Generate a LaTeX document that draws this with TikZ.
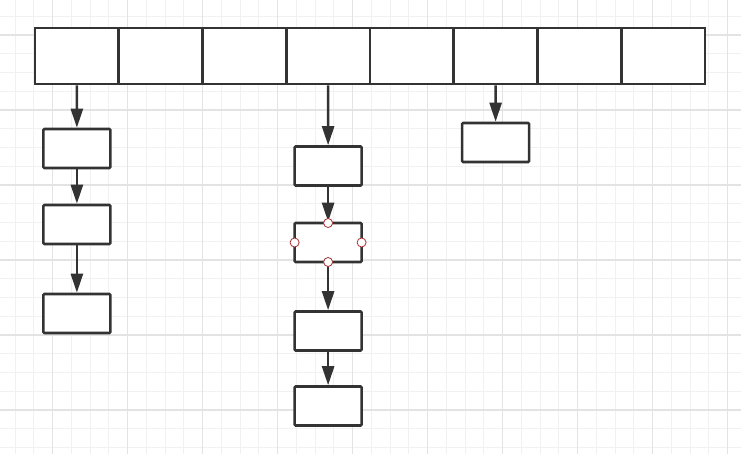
\documentclass[tikz,border=0pt]{standalone}
\usepackage{xcolor}
\usepackage{tikz}
\usetikzlibrary{arrows.meta,positioning}
\definecolor{edgegray}{HTML}{333333}
\definecolor{gridminor}{HTML}{F1F1F1}
\definecolor{gridmajor}{HTML}{E3E3E3}
\definecolor{handlered}{HTML}{A83232}

\begin{document}
\begin{tikzpicture}[
  x=1pt,y=-1pt,
  cell/.style  ={draw=edgegray,line width=2.6pt,fill=white,
                 minimum width=83.75pt,minimum height=56pt,inner sep=0pt},
  listbox/.style={draw=edgegray,line width=2.6pt,fill=white,rounded corners=1pt,
                 minimum width=67pt,minimum height=39pt,inner sep=0pt,outer sep=0pt},
  handle/.style={circle,draw=handlered,fill=white,line width=0.8pt,
                 minimum size=9pt,inner sep=0pt},
  link/.style  ={-{Triangle[length=19pt,width=12pt]},line width=2.6pt,edgegray,
                 shorten >=1.3pt}]

  \useasboundingbox (0,0) rectangle (741,454);

  % ===== BACKGROUND GRID =====
  \foreach \gx in {0,...,39} \draw[gridminor,line width=1pt] (15+18.75*\gx,0) -- (15+18.75*\gx,454);
  \foreach \gy in {0,...,23} \draw[gridminor,line width=1pt] (0,16.25+18.75*\gy) -- (741,16.25+18.75*\gy);
  \foreach \gx in {0,...,9} \draw[gridmajor,line width=1.2pt] (52.5+75*\gx,0) -- (52.5+75*\gx,454);
  \foreach \gy in {0,...,5} \draw[gridmajor,line width=1.2pt] (0,35+75*\gy) -- (741,35+75*\gy);

  % ===== TOP ROW: eight buckets =====
  \foreach \i in {1,...,8}
    \node[cell] (c\i) at (35+83.75*\i-41.875, 56) {};

  % ===== LEFT CHAIN (bucket 1) =====
  \node[listbox] (a1) at (76.9,148.5) {};
  \node[listbox] (a2) at (76.9,224.5) {};
  \node[listbox] (a3) at (76.9,313.5) {};

  % ===== MIDDLE CHAIN (bucket 4) =====
  \node[listbox] (b1) at (328.1,166) {};
  \node[listbox] (b2) at (328.1,242.5) {};
  \node[listbox] (b3) at (328.1,331) {};
  \node[listbox] (b4) at (328.1,406) {};

  % ===== RIGHT CHAIN (bucket 6) =====
  \node[listbox] (d1) at (495.6,142.5) {};

  % ===== ARROWS =====
  \draw[link] (c1.south) -- (a1.north);
  \draw[link] (a1.south) -- (a2.north);
  \draw[link] (a2.south) -- (a3.north);
  \draw[link] (c4.south) -- (b1.north);
  \draw[link] (b1.south) -- (b2.north);
  \draw[link] (b2.south) -- (b3.north);
  \draw[link] (b3.south) -- (b4.north);
  \draw[link] (c6.south) -- (d1.north);

  % selection handles on the second middle box
  \node[handle] (hn) at (b2.north) {};
  \node[handle] (hs) at (b2.south) {};
  \node[handle] (hw) at (b2.west) {};
  \node[handle] (he) at (b2.east) {};

\end{tikzpicture}
\end{document}
